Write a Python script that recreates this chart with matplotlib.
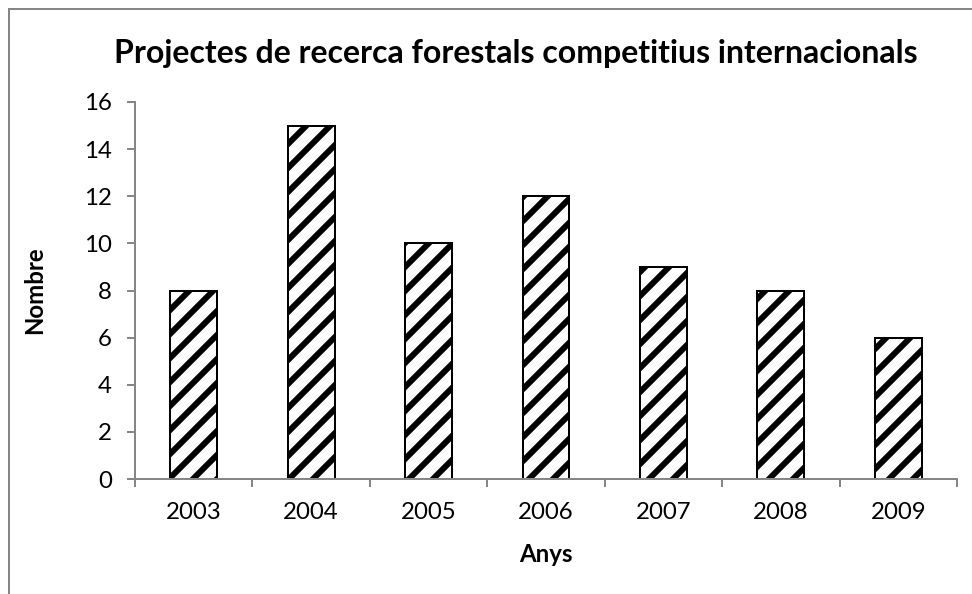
import numpy as np
import matplotlib
matplotlib.use("Agg")
from matplotlib import pyplot as plt
from matplotlib.lines import Line2D

years = ["2003", "2004", "2005", "2006", "2007", "2008", "2009"]
counts = [8, 15, 10, 12, 9, 8, 6]
yticks = [0, 2, 4, 6, 8, 10, 12, 14, 16]

plt.rcParams['font.family'] = ['Lato', 'DejaVu Sans']
plt.rcParams['hatch.linewidth'] = 6
plt.rcParams['hatch.color'] = 'black'

grey = '#868686'

fig = plt.figure(figsize=(13.5, 8.25), dpi=72)
ax = fig.add_axes([135/972, 1-479/594, (957-135)/972, (479-102)/594])

x = np.arange(len(years))
ax.bar(x, counts, width=0.4, color='white', edgecolor='black', linewidth=2, hatch='/')

ax.set_xlim(-0.5, len(years) - 0.5)
ax.set_ylim(0, 16)
ax.set_yticks(yticks)
ax.set_xticks(x)
ax.set_xticklabels(years)
ax.set_xticks(np.arange(len(years) + 1) - 0.5, minor=True)
ax.tick_params(axis='x', which='major', length=0, pad=23, labelsize=24)
ax.tick_params(axis='x', which='minor', length=8, width=2, color=grey, direction='out')
ax.tick_params(axis='y', length=8, width=2, color=grey, direction='out', pad=15, labelsize=24)

for s in ['top', 'right']:
    ax.spines[s].set_visible(False)
for s in ['left', 'bottom']:
    ax.spines[s].set_color(grey)
    ax.spines[s].set_linewidth(2)

ax.set_xlabel("Anys", fontsize=24, fontweight='bold', labelpad=20)
ax.set_ylabel("Nombre", fontsize=24, fontweight='bold', labelpad=38)
fig.text(516/972, 1-53/594, "Projectes de recerca forestals competitius internacionals",
         ha='center', va='center', fontsize=32, fontweight='bold')

# chart frame (only top and left edges are in view)
fig.add_artist(Line2D([9/972, 1], [1-9/594, 1-9/594], color=grey, lw=2, transform=fig.transFigure))
fig.add_artist(Line2D([9/972, 9/972], [0, 1-9/594], color=grey, lw=2, transform=fig.transFigure))

fig.savefig("out.png", dpi=72)
